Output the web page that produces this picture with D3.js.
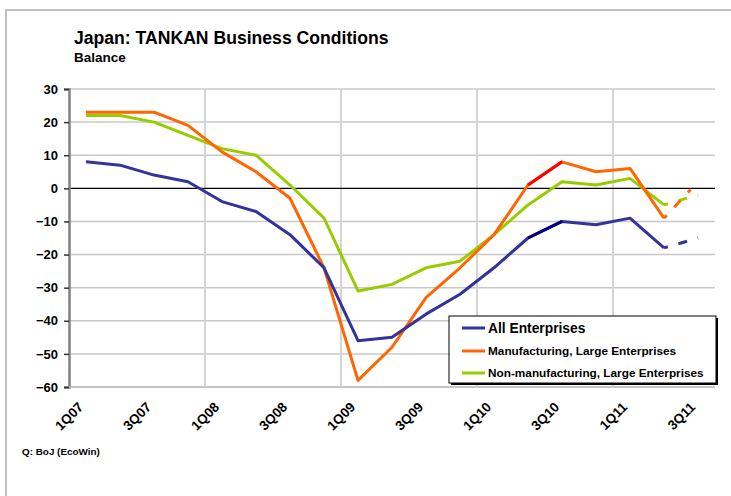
<!DOCTYPE html>
<html>
<head>
<meta charset="utf-8">
<script src="https://cdn.jsdelivr.net/npm/d3@7"></script>
<style>
  body { margin: 0; background: #fff; }
  svg { display: block; font-family: Arial, "Liberation Sans", sans-serif; }
</style>
</head>
<body>
<div id="container"></div>
<script>
document.addEventListener("DOMContentLoaded", () => {

const width = 731;
const height = 496;
const marginTop = 89;
const marginRight = 16;
const marginBottom = 109;
const marginLeft = 69;

// quarters 1Q07 .. 3Q11
const quarters = ["1Q07", "2Q07", "3Q07", "4Q07", "1Q08", "2Q08", "3Q08", "4Q08",
    "1Q09", "2Q09", "3Q09", "4Q09", "1Q10", "2Q10", "3Q10", "4Q10",
    "1Q11", "2Q11", "3Q11"];
const tickLabels = ["1Q07", "3Q07", "1Q08", "3Q08", "1Q09", "3Q09", "1Q10", "3Q10", "1Q11", "3Q11"];
const yTicks = [30, 20, 10, 0, -10, -20, -30, -40, -50, -60];

// last value (3Q11) is the forecast, drawn dashed
const allEnterprises = [8, 7, 4, 2, -4, -7, -14, -24, -46, -45, -38, -32, -24, -15, -10, -11, -9, -18, -15];
const manufacturingLarge = [23, 23, 23, 19, 11, 5, -3, -24, -58, -48, -33, -24, -14, 1, 8, 5, 6, -9, 2];
const nonManufacturingLarge = [22, 22, 20, 16, 12, 10, 1, -9, -31, -29, -24, -22, -14, -5, 2, 1, 3, -5, -2];

const seriesNames = ["All Enterprises", "Manufacturing, Large Enterprises", "Non-manufacturing, Large Enterprises"];
const colors = ["#333399", "#ff6600", "#99cc00"];
const highlight = ["#000080", "#ff0000", null];  // 2Q10 -> 3Q10 segment

const x = d3.scaleBand()
    .domain(quarters)
    .range([marginLeft, width - marginRight])
    .padding(0);

const y = d3.scaleLinear()
    .domain([-60, 30])
    .range([height - marginBottom, marginTop]);

const cx = q => x(q) + x.bandwidth() / 2;

const svg = d3.create("svg")
    .attr("width", width)
    .attr("height", height);

// outer frame
svg.append("line")
    .attr("x1", 5).attr("x2", width).attr("y1", 10).attr("y2", 10)
    .attr("stroke", "#c0c0c0").attr("stroke-width", 2);
svg.append("line")
    .attr("x1", 6).attr("x2", 6).attr("y1", 9).attr("y2", height)
    .attr("stroke", "#c0c0c0").attr("stroke-width", 2);

// title
svg.append("text")
    .attr("x", 74).attr("y", 44)
    .attr("font-size", 17.6).attr("font-weight", "bold")
    .text("Japan: TANKAN Business Conditions");
svg.append("text")
    .attr("x", 74).attr("y", 62)
    .attr("font-size", 13.5).attr("font-weight", "bold")
    .text("Balance");

// horizontal gridlines
svg.append("g")
    .selectAll("line")
    .data(yTicks.filter(d => d !== 0))
    .join("line")
    .attr("x1", marginLeft).attr("x2", width - marginRight)
    .attr("y1", d => y(d)).attr("y2", d => y(d))
    .attr("stroke", "#c8c8c8").attr("stroke-width", 1.5);

// vertical gridlines at every 1Q
svg.append("g")
    .selectAll("line")
    .data(quarters.filter((q, i) => i > 0 && q.startsWith("1Q")))
    .join("line")
    .attr("x1", d => x(d)).attr("x2", d => x(d))
    .attr("y1", marginTop).attr("y2", height - marginBottom)
    .attr("stroke", "#d4d4d4").attr("stroke-width", 2);

// zero line
svg.append("line")
    .attr("x1", marginLeft).attr("x2", width - marginRight)
    .attr("y1", y(0)).attr("y2", y(0))
    .attr("stroke", "#000").attr("stroke-width", 1.3);

// y axis
const yAxis = svg.append("g")
    .attr("transform", `translate(${marginLeft}, 0)`)
    .call(d3.axisLeft(y).tickValues(yTicks).tickSize(5).tickPadding(6));
yAxis.select(".domain").attr("stroke", "#808080").attr("stroke-width", 2.5);
yAxis.selectAll(".tick line").attr("stroke", "#333").attr("stroke-width", 1.5);
yAxis.selectAll(".tick text")
    .attr("font-size", 13).attr("font-weight", "bold")
    .attr("font-family", "Arial, 'Liberation Sans', sans-serif")
    .attr("fill", "#000");

// x labels
svg.append("g")
    .selectAll("text")
    .data(tickLabels)
    .join("text")
    .attr("transform", d => `translate(${cx(d) - 2}, ${height - marginBottom + 21}) rotate(-45)`)
    .attr("text-anchor", "end")
    .attr("font-size", 13.5).attr("font-weight", "bold")
    .text(d => d);

// bottom border of the plot
svg.append("line")
    .attr("x1", marginLeft).attr("x2", width - marginRight)
    .attr("y1", y(-60)).attr("y2", y(-60))
    .attr("stroke", "#c0c0c0").attr("stroke-width", 1.5);

const series = [allEnterprises, manufacturingLarge, nonManufacturingLarge];
const line = d3.line()
    .x(d => cx(d.q))
    .y(d => y(d.v));

const n = quarters.length;
// draw in reverse so blue is on top
[2, 1, 0].forEach(s => {
    const pts = series[s].map((v, i) => ({ q: quarters[i], v: v }));
    svg.append("path")
        .datum(pts.slice(0, n - 1))
        .attr("fill", "none")
        .attr("stroke", colors[s])
        .attr("stroke-width", 3)
        .attr("stroke-linejoin", "round")
        .attr("d", line);
    if (highlight[s]) {
        svg.append("path")
            .datum(pts.slice(13, 15))
            .attr("fill", "none")
            .attr("stroke", highlight[s])
            .attr("stroke-width", 3)
            .attr("d", line);
    }
    svg.append("path")
        .datum(pts.slice(n - 2))
        .attr("fill", "none")
        .attr("stroke", colors[s])
        .attr("stroke-width", 3)
        .attr("stroke-dasharray", "4,11,9,11")
        .attr("d", line);
});

// legend
const lg = svg.append("g").attr("transform", "translate(449, 316)");
lg.append("rect")
    .attr("x", 2).attr("y", 2).attr("width", 267).attr("height", 67)
    .attr("fill", "#000");
lg.append("rect")
    .attr("x", 0).attr("y", 0).attr("width", 267).attr("height", 67)
    .attr("fill", "#fff").attr("stroke", "#000").attr("stroke-width", 1);
const legendRows = [12, 35, 57];
const legendSizes = [13.8, 11.8, 11.8];
seriesNames.forEach((name, i) => {
    lg.append("line")
        .attr("x1", 13).attr("x2", 36)
        .attr("y1", legendRows[i]).attr("y2", legendRows[i])
        .attr("stroke", colors[i]).attr("stroke-width", 3);
    lg.append("text")
        .attr("x", 39).attr("y", legendRows[i])
        .attr("dy", "0.36em")
        .attr("font-size", legendSizes[i]).attr("font-weight", "bold")
        .text(name);
});

// source
svg.append("text")
    .attr("x", 22).attr("y", 455)
    .attr("font-size", 9.9).attr("font-weight", "bold")
    .text("Q: BoJ (EcoWin)");

document.getElementById("container").append(svg.node());
});
</script>
</body>
</html>
